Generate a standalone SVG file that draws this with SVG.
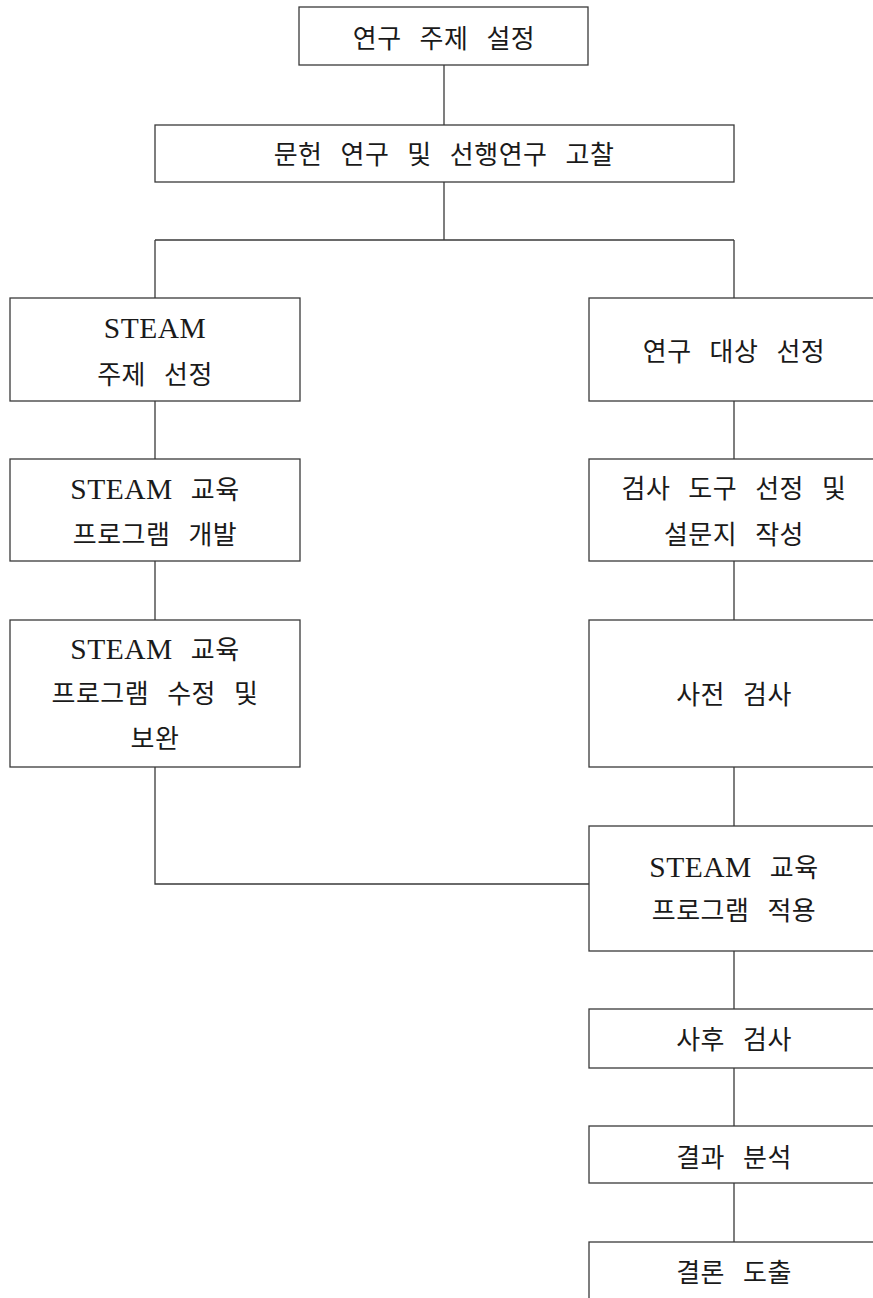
<svg xmlns="http://www.w3.org/2000/svg" width="873" height="1298" viewBox="0 0 873 1298">
<style>
.box{fill:#fff;stroke:#3a3a3a;stroke-width:1.3}
.ln{fill:none;stroke:#3a3a3a;stroke-width:1.3}
text{font-family:"Liberation Serif","Noto Sans CJK KR",serif;font-size:26px;fill:#1a1a1a;text-anchor:middle;letter-spacing:0.5px;word-spacing:11px}
.lat{font-family:"Liberation Serif",serif;font-size:29.5px;letter-spacing:0.5px}
</style>
<rect width="873" height="1298" fill="#fff"/>
<g id="connectors">
<path class="ln" d="M444 65V125"/>
<path class="ln" d="M444 182V240M155 240H734M155 240V298M734 240V298"/>
<path class="ln" d="M155 401V459M155 561V620M155 767V884H589"/>
<path class="ln" d="M734 401V459M734 561V620M734 767V826M734 951V1009M734 1068V1126M734 1183V1242"/>
</g>
<g id="n1"><rect class="box" x="299" y="7" width="289" height="58"/><text x="444" y="48">연구 주제 설정</text></g>
<g id="n2"><rect class="box" x="155" y="125" width="579" height="57"/><text x="444" y="164">문헌 연구 및 선행연구 고찰</text></g>
<g id="n3"><rect class="box" x="10" y="298" width="290" height="103"/><text x="155" y="338"><tspan class="lat">STEAM</tspan></text><text x="155" y="384">주제 선정</text></g>
<g id="n4"><rect class="box" x="589" y="298" width="290" height="103"/><text x="734" y="361">연구 대상 선정</text></g>
<g id="n5"><rect class="box" x="10" y="459" width="290" height="102"/><text x="155" y="499"><tspan class="lat">STEAM</tspan> 교육</text><text x="155" y="544">프로그램 개발</text></g>
<g id="n6"><rect class="box" x="589" y="459" width="290" height="102"/><text x="734" y="498">검사 도구 선정 및</text><text x="734" y="544">설문지 작성</text></g>
<g id="n7"><rect class="box" x="10" y="620" width="290" height="147"/><text x="155" y="659"><tspan class="lat">STEAM</tspan> 교육</text><text x="155" y="703">프로그램 수정 및</text><text x="155" y="748">보완</text></g>
<g id="n8"><rect class="box" x="589" y="620" width="290" height="147"/><text x="734" y="704">사전 검사</text></g>
<g id="n9"><rect class="box" x="589" y="826" width="290" height="125"/><text x="734" y="877"><tspan class="lat">STEAM</tspan> 교육</text><text x="734" y="920">프로그램 적용</text></g>
<g id="n10"><rect class="box" x="589" y="1009" width="290" height="59"/><text x="734" y="1049">사후 검사</text></g>
<g id="n11"><rect class="box" x="589" y="1126" width="290" height="57"/><text x="734" y="1167">결과 분석</text></g>
<g id="n12"><rect class="box" x="589" y="1242" width="290" height="70"/><text x="734" y="1282">결론 도출</text></g>
</svg>
